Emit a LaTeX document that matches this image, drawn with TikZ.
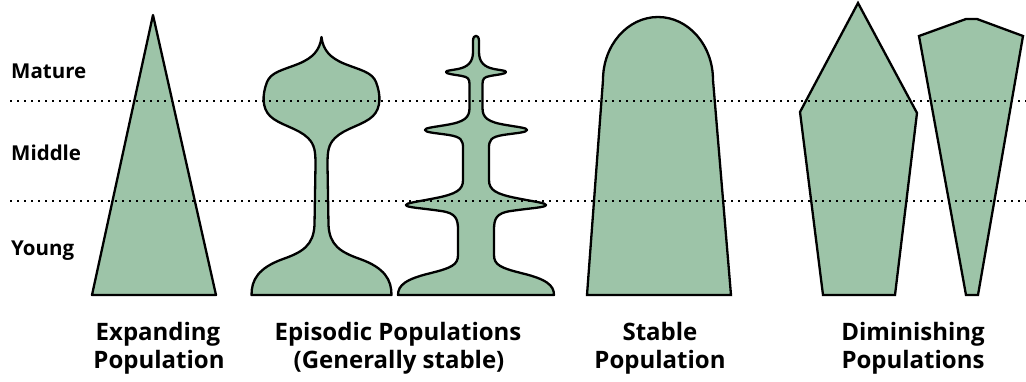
\documentclass[tikz,border=0pt]{standalone}
\usepackage{fontspec}
\setmainfont{Open Sans}
\definecolor{pyrgreen}{RGB}{157,196,168}
\tikzset{
  pyr/.style={fill=pyrgreen, draw=black, line width=2.3pt, line join=round},
  levelline/.style={draw=black, line width=2pt, dash pattern=on 2pt off 5pt},
  levellabel/.style={anchor=base west, inner sep=0pt, font=\bfseries\fontsize{20.5}{24}\selectfont},
  caption/.style={anchor=base, inner sep=0pt, font=\bfseries\fontsize{24}{28}\selectfont},
}
\begin{document}
\begin{tikzpicture}[x=1pt,y=-1pt]
\useasboundingbox (0,0) rectangle (1026,381);

% Expanding
\draw[pyr] (153,15) -- (216,295) -- (92,295) -- cycle;

% Episodic 1
\begin{scope}[shift={(321.5,0)}]
\draw[pyr] (0,37) .. controls (1.5,50) and (8.5,58) .. (23.5,64)
 .. controls (38.5,70) and (50.5,72) .. (54.5,82)
 .. controls (59.5,95) and (59.5,108) .. (51.5,116)
 .. controls (42.5,125) and (23.5,128) .. (13.5,138)
 .. controls (6.5,145) and (6,152) .. (6,165)
 -- (7,225)
 .. controls (8,245) and (18.5,252) .. (38.5,259)
 .. controls (63.5,268) and (70,280) .. (70,295)
 -- (-70,295)
 .. controls (-70,280) and (-63.5,268) .. (-38.5,259)
 .. controls (-18.5,252) and (-8,245) .. (-7,225)
 -- (-6,165)
 .. controls (-6,152) and (-6.5,145) .. (-13.5,138)
 .. controls (-23.5,128) and (-42.5,125) .. (-51.5,116)
 .. controls (-59.5,108) and (-59.5,95) .. (-54.5,82)
 .. controls (-50.5,72) and (-38.5,70) .. (-23.5,64)
 .. controls (-8.5,58) and (-1.5,50) .. (0,37) -- cycle;
\end{scope}

% Episodic 2
\begin{scope}[shift={(476,0)}]
\draw[pyr] (-3,41) .. controls (-3,34) and (3,34) .. (3,41)
 -- (3,52)
 .. controls (3,62) and (8,67) .. (18,69)
 .. controls (26,70.5) and (30,70.5) .. (30,72)
 .. controls (30,74) and (22,74.5) .. (14,76)
 .. controls (8,77) and (6.5,79) .. (6.5,84)
 -- (6.5,108)
 .. controls (6.5,118) and (12,122) .. (30,125)
 .. controls (45,127.5) and (51,128) .. (51,130)
 .. controls (51,132.5) and (40,133) .. (27,135)
 .. controls (15,137) and (13,140) .. (13,148)
 -- (13,180)
 .. controls (13,190) and (20,194) .. (40,198)
 .. controls (60,202) and (70,203) .. (70,205)
 .. controls (70,207.5) and (55,208) .. (35,211)
 .. controls (20,213) and (18,219) .. (18,230)
 -- (18,255)
 .. controls (18,265) and (25,268) .. (45,273)
 .. controls (70,279) and (78,285) .. (78,295)
 -- (-78,295)
 .. controls (-78,285) and (-70,279) .. (-45,273)
 .. controls (-25,268) and (-18,265) .. (-18,255)
 -- (-18,230)
 .. controls (-18,219) and (-20,213) .. (-35,211)
 .. controls (-55,208) and (-70,207.5) .. (-70,205)
 .. controls (-70,203) and (-60,202) .. (-40,198)
 .. controls (-20,194) and (-13,190) .. (-13,180)
 -- (-13,148)
 .. controls (-13,140) and (-15,137) .. (-27,135)
 .. controls (-40,133) and (-51,132.5) .. (-51,130)
 .. controls (-51,128) and (-45,127.5) .. (-30,125)
 .. controls (-12,122) and (-6.5,118) .. (-6.5,108)
 -- (-6.5,84)
 .. controls (-6.5,79) and (-8,77) .. (-14,76)
 .. controls (-22,74.5) and (-30,74) .. (-30,72)
 .. controls (-30,70.5) and (-26,70.5) .. (-18,69)
 .. controls (-8,67) and (-3,62) .. (-3,52)
 -- cycle;
\end{scope}

% Stable
\draw[pyr, line join=miter] (587,295) -- (603,80)
 .. controls (603,45.2) and (627.6,17) .. (658,17)
 .. controls (688.4,17) and (713,45.2) .. (713,80)
 -- (731,295) -- cycle;

% Diminishing
\draw[pyr, line join=miter] (858,3) -- (917,113) -- (895,295) -- (823,295) -- (800,112) -- cycle;
\draw[pyr, line join=miter] (919,36) -- (966,19) -- (977,19) -- (1023,36) -- (978,295) -- (966,295) -- cycle;

% level lines
\draw[levelline] (10,101) -- (1026,101);
\draw[levelline] (10,201) -- (1026,201);

% level labels
\node[levellabel] (mature) at (11,78) {Mature};
\node[levellabel] (middle) at (11,160) {Middle};
\node[levellabel] (young) at (11,255) {Young};

% captions
\node[caption] (exp1) at (158,340) {Expanding};
\node[caption] (exp2) at (159,368) {Population};
\node[caption] (epi1) at (398,340) {Episodic Populations};
\node[caption] (epi2) at (399,368) {(Generally stable)};
\node[caption] (sta1) at (660,340) {Stable};
\node[caption] (sta2) at (660,368) {Population};
\node[caption] (dim1) at (913,340) {Diminishing};
\node[caption] (dim2) at (913,368) {Populations};
\end{tikzpicture}
\end{document}
